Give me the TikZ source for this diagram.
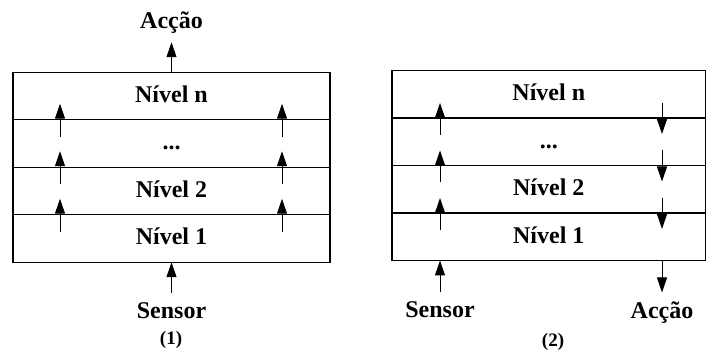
\documentclass[tikz,border=0pt]{standalone}
\usepackage{fontspec}
\setmainfont{Liberation Serif}
\usetikzlibrary{arrows.meta,positioning}

\begin{document}
\begin{tikzpicture}[x=1pt, y=-1pt, line width=1pt,
    nivel/.style={draw, line width=1.2pt, minimum height=47.5pt, inner sep=0pt, outer sep=0pt,
        text height=13pt, text depth=0pt, font=\bfseries\fontsize{24}{28}\selectfont},
    rotulo/.style={inner sep=8.5pt, font=\bfseries\fontsize{24}{28}\selectfont},
    legenda/.style={inner sep=0pt, font=\bfseries\fontsize{19}{23}\selectfont},
    seta/.style={-{Triangle[length=15pt,width=10pt]}}]
    \useasboundingbox (0,0) rectangle (706,352);

    % Draw the levels of architecture (1)
    \node[nivel, minimum width=317pt] (a4) at (171.5,96) {Nível n};
    \node[nivel, minimum width=317pt, below=0pt of a4] (a3) {...};
    \node[nivel, minimum width=317pt, below=0pt of a3] (a2) {Nível 2};
    \node[nivel, minimum width=317pt, below=0pt of a2] (a1) {Nível 1};

    % Draw the arrows going up through the levels
    \foreach \lo/\hi in {a1/a2, a2/a3, a3/a4} {
        \draw[seta] ([xshift=47pt, yshift=-17pt]\lo.north west) -- ([xshift=47pt, yshift=16pt]\hi.south west);
        \draw[seta] ([xshift=-48pt, yshift=-17pt]\lo.north east) -- ([xshift=-48pt, yshift=16pt]\hi.south east);
    }

    % Draw sensor and action
    \node[rotulo, above=30pt of a4] (acA) {Acção};
    \node[rotulo, below=31pt of a1] (sensA) {Sensor};
    \draw[seta] (a4) -- (acA);
    \draw[seta] (sensA) -- (a1);
    \node[legenda] (capA) at (171,340) {(1)};

    % Draw the levels of architecture (2)
    \node[nivel, minimum width=313.5pt] (b4) at (548.75,94.25) {Nível n};
    \node[nivel, minimum width=313.5pt, below=0pt of b4] (b3) {...};
    \node[nivel, minimum width=313.5pt, below=0pt of b3] (b2) {Nível 2};
    \node[nivel, minimum width=313.5pt, below=0pt of b2] (b1) {Nível 1};

    % Draw the arrows going up and down
    \foreach \lo/\hi in {b1/b2, b2/b3, b3/b4} {
        \draw[seta] ([xshift=48pt, yshift=-17pt]\lo.north west) -- ([xshift=48pt, yshift=15pt]\hi.south west);
        \draw[seta] ([xshift=-43.5pt, yshift=15pt]\hi.south east) -- ([xshift=-43.5pt, yshift=-16pt]\lo.north east);
    }

    % Draw sensor and action
    \node[rotulo, below=32pt of b1.south west, xshift=48pt] (sensB) {Sensor};
    \node[rotulo, below=32pt of b1.south east, xshift=-43.5pt] (acB) {Acção};
    \draw[seta] (sensB) -- (sensB |- b1.south);
    \draw[seta] (acB |- b1.south) -- (acB);
    \node[legenda] (capB) at (553,342) {(2)};
\end{tikzpicture}
\end{document}
